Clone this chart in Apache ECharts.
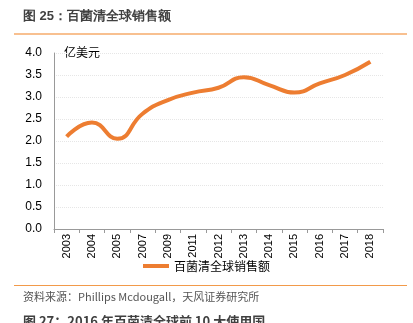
<!DOCTYPE html>
<html><head><meta charset="utf-8">
<script src="https://cdn.jsdelivr.net/npm/echarts@6/dist/echarts.min.js"></script>
<style>html,body{margin:0;padding:0;background:#fff}#c{width:413px;height:323px}</style>
</head><body><div id="c"></div>
<script>
var categories = ['2003','2004','2005','2007','2009','2011','2012','2013','2014','2015','2016','2017','2018'];
var sales = [2.10, 2.42, 2.05, 2.62, 2.93, 3.10, 3.21, 3.45, 3.27, 3.10, 3.31, 3.50, 3.80];
var yTicks = [0, 0.5, 1.0, 1.5, 2.0, 2.5, 3.0, 3.5, 4.0];
var seriesName = '百菌清全球销售额';
var titleText = '图 25：百菌清全球销售额';
var sourceText = '资料来源：Phillips Mcdougall，天风证券研究所';
var nextTitle = '图 27：2016 年百菌清全球前 10 大使用国';
var unitText = '亿美元';

var font = '"Noto Sans CJK SC", "Liberation Sans", sans-serif';
var chart = echarts.init(document.getElementById('c'));
chart.setOption({
  animation: false,
  textStyle: {fontFamily: font},
  grid: {left: 54, right: 30, top: 53, bottom: 94, containLabel: false},
  legend: {
    data: [seriesName], bottom: 46, left: 'center', itemWidth: 26, itemHeight: 4, itemGap: 4,
    icon: 'rect',
    textStyle: {fontSize: 12, color: '#000', fontFamily: font}
  },
  xAxis: {
    type: 'category', data: categories, boundaryGap: true,
    axisLine: {lineStyle: {color: '#999'}},
    axisTick: {show: true, lineStyle: {color: '#999'}, length: 4},
    axisLabel: {rotate: 90, fontSize: 11, color: '#000', margin: 5, fontFamily: '"Liberation Sans", sans-serif'}
  },
  yAxis: {
    type: 'value', min: yTicks[0], max: yTicks[yTicks.length-1], interval: 0.5,
    axisLine: {show: true, lineStyle: {color: '#999'}},
    axisTick: {show: false},
    splitLine: {lineStyle: {color: '#e6e6e6', type: 'dotted'}},
    axisLabel: {fontSize: 12, color: '#000', margin: 12, fontFamily: '"Liberation Sans", sans-serif',
      formatter: function(v){return v.toFixed(1);}}
  },
  series: [{
    name: seriesName, type: 'line', data: sales, smooth: 0.5, symbol: 'none',
    lineStyle: {color: '#ED7D31', width: 4}, itemStyle: {color: '#ED7D31'}
  }],
  graphic: [
    {type: 'text', left: 23, top: 10, style: {text: titleText, fontSize: 13, fontWeight: 'bold', fill: '#404040', font: 'bold 13px ' + font}},
    {type: 'rect', shape: {x: 14, y: 33, width: 393, height: 2}, style: {fill: '#F8C090'}},
    {type: 'text', left: 64, top: 46, style: {text: unitText, fill: '#000', font: '12px ' + font}},
    {type: 'rect', shape: {x: 14, y: 285, width: 393, height: 1}, style: {fill: '#F29A4A'}},
    {type: 'text', left: 23, top: 291, style: {text: sourceText, fill: '#555', font: '11px ' + font}},
    {type: 'text', left: 23, top: 315, style: {text: nextTitle, fill: '#404040', font: 'bold 13px ' + font}}
  ]
});
</script></body></html>
